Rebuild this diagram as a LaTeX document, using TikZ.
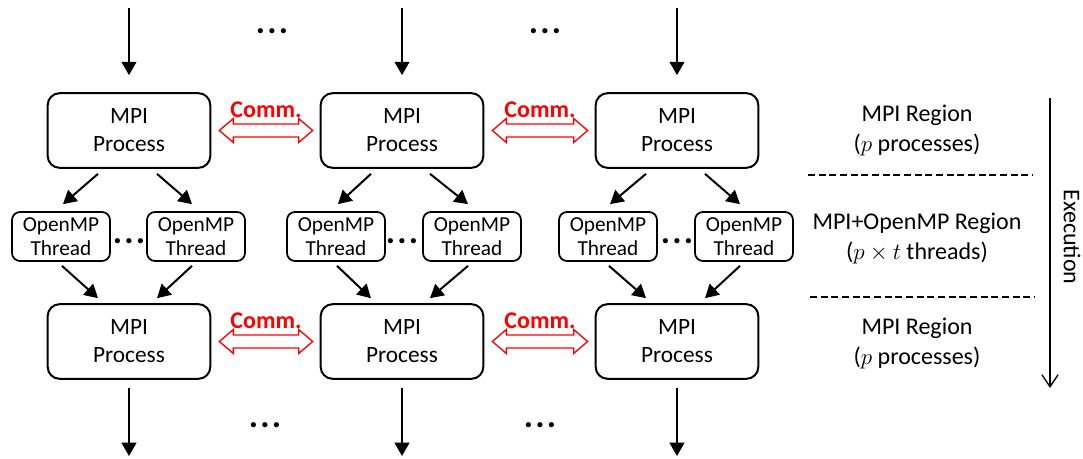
\documentclass[tikz,border=0pt]{standalone}
\usepackage{fontspec}
\setmainfont{Carlito}
\usetikzlibrary{arrows.meta,calc}

% red outlined double arrow between two process boxes, with its label
\newcommand\commlink[2]{%
  \coordinate (L) at ($(#1.east)+(8,0)$);
  \coordinate (R) at ($(#2.west)+(-7,0)$);
  \draw[comm] (L) -- ($(L)+(14,-12)$) -- ($(L)+(14,-6.5)$) -- ($(R)+(-14,-6.5)$)
    -- ($(R)+(-14,-12)$) -- (R) -- ($(R)+(-14,12)$) -- ($(R)+(-14,6.5)$)
    -- ($(L)+(14,6.5)$) -- ($(L)+(14,12)$) -- cycle;
  \node[commlabel] at ($(L)!0.5!(R)+(0,-21)$) {Comm.};
}

\begin{document}
\begin{tikzpicture}[x=0.75pt,y=-0.75pt,
  proc/.style={draw,line width=1.5pt,rounded corners=9pt,minimum width=122pt,
    minimum height=56pt,inner sep=0pt,align=center,font=\fontsize{17.5}{21}\selectfont},
  thr/.style={draw,line width=1.3pt,rounded corners=6pt,minimum width=73.5pt,
    minimum height=36.75pt,inner sep=0pt,align=center,font=\fontsize{16}{17.5}\selectfont},
  flow/.style={line width=1.5pt,-{Triangle[length=10pt,width=11pt]}},
  comm/.style={draw=red,line width=1pt,fill=white,line join=miter},
  commlabel/.style={text=red,inner sep=0pt,font=\fontsize{18}{20}\selectfont\bfseries},
  region/.style={align=center,font=\fontsize{18}{22.5}\selectfont},
  dots/.style={inner sep=0pt,font=\fontsize{26}{26}\selectfont\bfseries},
  sep/.style={line width=1pt,dash pattern=on 5.25pt off 2.75pt}]

\useasboundingbox (0,0) rectangle (1083,458);

% MPI processes, upper and lower rows
\node[proc] (pa1) at (129,130.5) {MPI\\Process};
\node[proc] (pa2) at (402,130.5) {MPI\\Process};
\node[proc] (pa3) at (677,130.5) {MPI\\Process};
\node[proc] (pb1) at (129,341.5) {MPI\\Process};
\node[proc] (pb2) at (402,341.5) {MPI\\Process};
\node[proc] (pb3) at (677,341.5) {MPI\\Process};

% OpenMP threads
\node[thr] (tl1) at (61,236.5) {OpenMP\\Thread};
\node[thr] (tr1) at (196,236.5) {OpenMP\\Thread};
\node[thr] (tl2) at (336,236.5) {OpenMP\\Thread};
\node[thr] (tr2) at (472,236.5) {OpenMP\\Thread};
\node[thr] (tl3) at (608,236.5) {OpenMP\\Thread};
\node[thr] (tr3) at (744,236.5) {OpenMP\\Thread};

% incoming and outgoing control flow
\foreach \i/\x in {1/129,2/402,3/677}{
  \coordinate (in\i) at (\x,8);
  \coordinate (out\i) at (\x,456);
  \draw[flow] (in\i) -- ($(pa\i.north)+(0,-17)$);
  \draw[flow] ($(pb\i.south)+(0,8)$) -- (out\i);
  % fork into threads and join back
  \draw[flow] ($(pa\i.south)+(-31,5)$) -- ($(tl\i.north)+(2,-7)$);
  \draw[flow] ($(pa\i.south)+(28,5)$) -- ($(tr\i.north)+(-4,-7)$);
  \draw[flow] ($(tl\i.south)+(1,4)$) -- ($(pb\i.north)+(-31,-5)$);
  \draw[flow] ($(tr\i.south)+(-4,4)$) -- ($(pb\i.north)+(28,-5)$);
  \node[dots] (td\i) at (\x,241) {.\kern1.6pt.\kern1.6pt.};
}

% ellipses between process columns
\node[dots] (da1) at (272,31) {.\kern1.6pt.\kern1.6pt.};
\node[dots] (da2) at (545,31) {.\kern1.6pt.\kern1.6pt.};
\node[dots] (db1) at (265,425) {.\kern1.6pt.\kern1.6pt.};
\node[dots] (db2) at (540,425) {.\kern1.6pt.\kern1.6pt.};

% communication between processes
\commlink{pa1}{pa2}
\commlink{pa2}{pa3}
\commlink{pb1}{pb2}
\commlink{pb2}{pb3}

% region legend
\node[region] (r1) at (917,130) {MPI Region\\($p$ processes)};
\node[region] (r2) at (917,238) {MPI+OpenMP Region\\($p\times t$ threads)};
\node[region] (r3) at (917,343) {MPI Region\\($p$ processes)};
\coordinate (s1a) at (808,175); \coordinate (s1b) at (1033,175);
\coordinate (s2a) at (810,297); \coordinate (s2b) at (1035,297);
\draw[sep] (s1a) -- (s1b);
\draw[sep] (s2a) -- (s2b);

% execution direction
\coordinate (e1) at (1050,98);
\coordinate (e2) at (1050,388);
\draw[line width=1pt,-{Straight Barb[length=9pt,width=12pt]}] (e1) -- (e2);
\node[rotate=-90,font=\fontsize{18}{20}\selectfont] (ex) at (1072,237) {Execution};

\end{tikzpicture}
\end{document}
